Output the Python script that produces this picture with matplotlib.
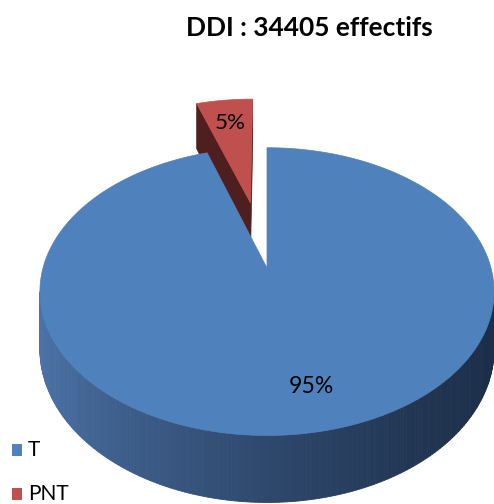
import numpy as np
import matplotlib.pyplot as plt
from matplotlib.patches import Polygon, Rectangle

# ==================== DATA ====================
title = "DDI : 34405 effectifs"
labels = ["T", "PNT"]
values = [95, 5]
pct_labels = ["95%", "5%"]
explode = [0.0, 0.51]

# ==================== STYLE ====================
colors = ["#4F81BD", "#C0504D"]
dark_faces = ["#2c4a70", "#4f1f1f"]
side_left = np.array([76, 115, 168]) / 255
side_right = np.array([28, 46, 72]) / 255
FONT = ["Liberation Sans Narrow", "Lato", "DejaVu Sans"]

W, H = 494, 504
cx, cy = 267, 268          # projected pie centre (pixels)
A, B, K = 224, 140, 0.164  # radii and perspective strength
D = 56                     # thickness


def proj(u, v, z=0.0):
    w = 1 + K * v
    return cx + A * u / w, cy - B * v / w + D * z / w


def fit_width(txt, target_px):
    # shrink/grow a text so that it spans target_px pixels
    r = fig.canvas.get_renderer()
    for _ in range(3):
        wpx = txt.get_window_extent(r).width
        txt.set_fontsize(txt.get_fontsize() * target_px / wpx)


fig = plt.figure(figsize=(W / 100, H / 100), dpi=100)
ax = fig.add_axes([0, 0, 1, 1])
ax.set_xlim(0, W)
ax.set_ylim(H, 0)
ax.axis("off")

# slice angles: first slice starts at 12 o'clock, going clockwise
spans = 360 * np.array(values) / sum(values)
ends = 90 - np.concatenate([[0], np.cumsum(spans)[:-1]])
starts = ends - spans
mids = np.radians((starts + ends) / 2)
eye = np.array([0.0, -1 / K])

order = np.argsort(-np.sin(mids))  # back slices first
for i in order:
    t0, t1 = np.radians(starts[i]), np.radians(ends[i])
    ou, ov = explode[i] * np.cos(mids[i]), explode[i] * np.sin(mids[i])
    O = np.array([ou, ov])

    # radial faces
    for phi, sgn in ((t0, 1), (t1, -1)):
        n_in = sgn * np.array([-np.sin(phi), np.cos(phi)])
        if np.dot(eye - O, n_in) < -1e-6:
            ru, rv = ou + np.cos(phi), ov + np.sin(phi)
            pts = [proj(ou, ov), proj(ru, rv), proj(ru, rv, 1), proj(ou, ov, 1)]
            ax.add_patch(Polygon(pts, closed=True, facecolor=dark_faces[i],
                                 edgecolor=dark_faces[i], lw=0.5))

    # outer side with shading
    th = np.linspace(t0, t1, 400)
    for a0, a1 in zip(th[:-1], th[1:]):
        am = (a0 + a1) / 2
        P = O + np.array([np.cos(am), np.sin(am)])
        if np.dot(eye - P, [np.cos(am), np.sin(am)]) <= 0:
            continue
        pts = [proj(ou + np.cos(a0), ov + np.sin(a0)),
               proj(ou + np.cos(a1), ov + np.sin(a1)),
               proj(ou + np.cos(a1), ov + np.sin(a1), 1),
               proj(ou + np.cos(a0), ov + np.sin(a0), 1)]
        xm = np.mean([p[0] for p in pts])
        t = np.clip((xm - (cx - A)) / (2 * A), 0, 1) ** 0.7
        c = side_left * (1 - t) + side_right * t
        ax.add_patch(Polygon(pts, closed=True, facecolor=c, edgecolor=c, lw=0.6))

    # top face
    pts = [proj(ou, ov)] + [proj(ou + np.cos(a), ov + np.sin(a)) for a in th]
    ax.add_patch(Polygon(pts, closed=True, facecolor=colors[i],
                         edgecolor=colors[i], lw=0.5))

# percentage labels
pct_width = [45, 31]
for i in range(len(values)):
    ou, ov = explode[i] * np.cos(mids[i]), explode[i] * np.sin(mids[i])
    r = 0.75
    x, y = proj(ou + r * np.cos(mids[i]), ov + r * np.sin(mids[i]))
    if i == 0:
        x += 14
    t = ax.text(x, y, pct_labels[i], ha="center", va="center", fontsize=18,
                family=FONT, color="black")
    fit_width(t, pct_width[i])

# title
tt = ax.text(309, 28, title, ha="center", va="center", fontsize=22,
             fontweight="bold", family=FONT)
fit_width(tt, 248)

# legend
for i, lab in enumerate(labels):
    yc = 450 + 44 * i
    ax.add_patch(Rectangle((12, yc - 6), 10, 12, facecolor=colors[i], edgecolor="none"))
    ax.text(28, yc, lab, ha="left", va="center", fontsize=15, family=FONT)

plt.savefig("out.png", dpi=100)
